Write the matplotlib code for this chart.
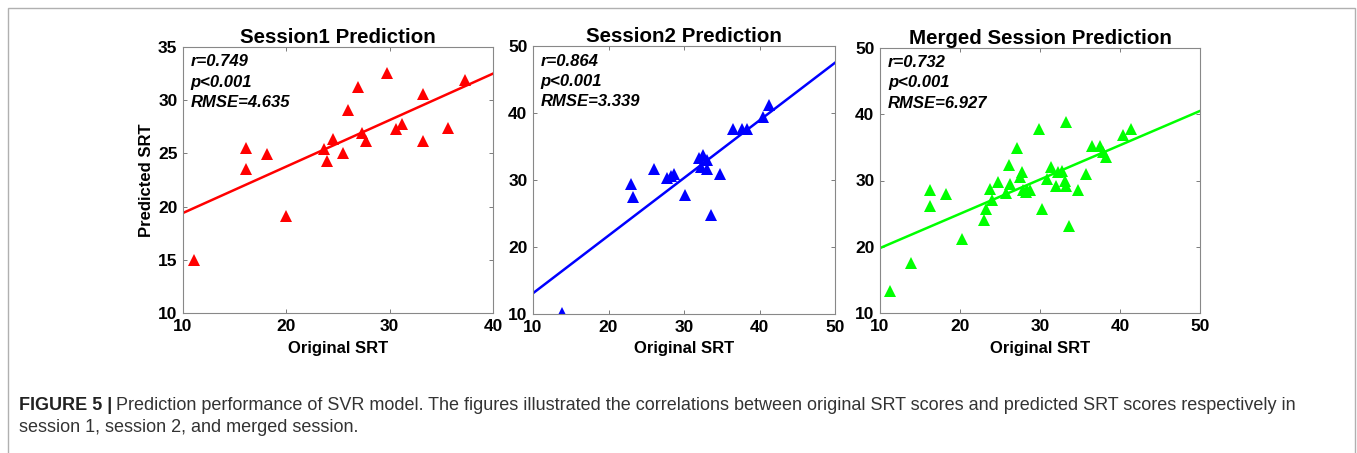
import numpy as np
import matplotlib.pyplot as plt
from matplotlib.patches import Rectangle

# Session 1 (original SRT, predicted SRT)
s1_orig = [11.1, 16.1, 16.1, 18.1, 20.0, 23.6, 23.9, 24.5, 25.5, 26.0,
           26.9, 27.3, 27.7, 29.7, 30.6, 31.2, 33.2, 33.2, 35.6, 37.3]
s1_pred = [15.0, 25.5, 23.5, 24.9, 19.1, 25.45, 24.25, 26.4, 25.0, 29.1,
           31.25, 26.9, 26.2, 32.6, 27.25, 27.8, 30.6, 26.2, 27.4, 31.9]

# Session 2
s2_orig = [13.8, 22.95, 23.2, 26.0, 27.8, 28.3, 28.65, 30.1, 32.0, 32.5,
           32.2, 33.0, 33.1, 33.6, 34.75, 36.5, 37.7, 38.4, 40.5, 41.25]
s2_pred = [10.1, 29.35, 27.5, 31.6, 30.35, 30.6, 30.9, 27.8, 33.3, 33.7,
           32.0, 33.0, 31.6, 24.8, 30.85, 37.55, 37.55, 37.55, 39.35, 41.2]

# Merged session
m_orig = [11.25, 13.9, 16.2, 16.25, 18.25, 20.2, 23.0, 23.2, 23.75, 24.0,
          24.7, 25.7, 26.1, 26.2, 27.1, 27.5, 27.75, 27.9, 28.4, 28.8,
          29.9, 30.2, 30.9, 31.4, 32.0, 32.3, 32.7, 33.1, 33.2, 33.3,
          33.6, 34.8, 35.8, 36.5, 37.5, 37.9, 38.3, 40.4, 41.4, 28.2]
m_pred = [13.3, 17.6, 28.6, 26.2, 27.9, 21.1, 24.1, 25.7, 28.7, 27.1,
          29.7, 28.1, 32.4, 29.5, 34.9, 30.6, 31.3, 28.5, 28.5, 28.6,
          37.8, 25.7, 30.25, 32.0, 29.2, 31.3, 31.5, 30.0, 29.2, 38.9,
          23.2, 28.5, 31.0, 35.2, 35.2, 34.3, 33.6, 36.8, 37.7, 28.3]

# regression line ends (value at left and right axis limit)
fit1 = [19.4, 32.5]
fit2 = [13.1, 47.5]
fit3 = [19.8, 40.5]

stats1 = ["r=0.749", "p<0.001", "RMSE=4.635"]
stats2 = ["r=0.864", "p<0.001", "RMSE=3.339"]
stats3 = ["r=0.732", "p<0.001", "RMSE=6.927"]

plt.rcParams['font.family'] = ['Liberation Sans', 'DejaVu Sans']

fig = plt.figure(figsize=(13.57, 4.53), dpi=100)

# outer frame of the figure box
fig.patches.append(Rectangle((8/1357, -0.02), 1347/1357, 1.02 - 8/453,
                             transform=fig.transFigure, fill=False,
                             edgecolor='#b0b0b0', linewidth=1.0))

panels = [
    ([183/1357, 1-313/453, 310/1357, 266/453], s1_orig, s1_pred, fit1, stats1,
     'red', "Session1 Prediction", (10, 40), (10, 35), [10, 20, 30, 40], [10, 15, 20, 25, 30, 35]),
    ([533/1357, 1-314/453, 302/1357, 268/453], s2_orig, s2_pred, fit2, stats2,
     'blue', "Session2 Prediction", (10, 50), (10, 50), [10, 20, 30, 40, 50], [10, 20, 30, 40, 50]),
    ([880/1357, 1-313/453, 320/1357, 265/453], m_orig, m_pred, fit3, stats3,
     '#00ff00', "Merged Session Prediction", (10, 50), (10, 50), [10, 20, 30, 40, 50], [10, 20, 30, 40, 50]),
]

for i, (pos, xo, yp, fit, stats, col, title, xl, yl, xt, yt) in enumerate(panels):
    ax = fig.add_axes(pos)
    ax.plot(xo, yp, '^', color=col, markersize=8, markeredgewidth=0)
    ax.plot(xl, fit, '-', color=col, linewidth=1.8)
    ax.set_xlim(xl)
    ax.set_ylim(yl)
    ax.set_xticks(xt)
    ax.set_yticks(yt)
    ax.tick_params(direction='in', top=True, right=True, length=3, width=0.6,
                   color='#666666', labelsize=12.5, pad=4)
    for lab in ax.get_xticklabels() + ax.get_yticklabels():
        lab.set_fontweight('bold')
    for sp in ax.spines.values():
        sp.set_color('#888888')
        sp.set_linewidth(0.8)
    ax.set_title(title, fontsize=14.8, fontweight='bold', pad=3)
    ax.set_xlabel("Original SRT", fontsize=12, fontweight='bold', labelpad=5)
    if i == 0:
        ax.set_ylabel("Predicted SRT", fontsize=12, fontweight='bold', labelpad=3)
    for k, s in enumerate(stats):
        ax.text(0.025, 0.944 - k*0.076, s, transform=ax.transAxes, va='center',
                ha='left', fontsize=12, fontweight='bold', style='italic')

# caption: bold lead-in, then the plain text right after it
lead = fig.text(19/1357, 1-405/453, "FIGURE 5 |", fontsize=13, fontweight='bold',
                color='#222222', va='center')
fig.canvas.draw()
bb = lead.get_window_extent(fig.canvas.get_renderer())
fig.text((bb.x1 + 4)/1357, 1-405/453,
         "Prediction performance of SVR model. The figures illustrated the correlations "
         "between original SRT scores and predicted SRT scores respectively in",
         fontsize=13, color='#333333', va='center')
fig.text(19/1357, 1-428/453, "session 1, session 2, and merged session.",
         fontsize=13, color='#333333', va='center')

fig.savefig("out.png", dpi=100)
